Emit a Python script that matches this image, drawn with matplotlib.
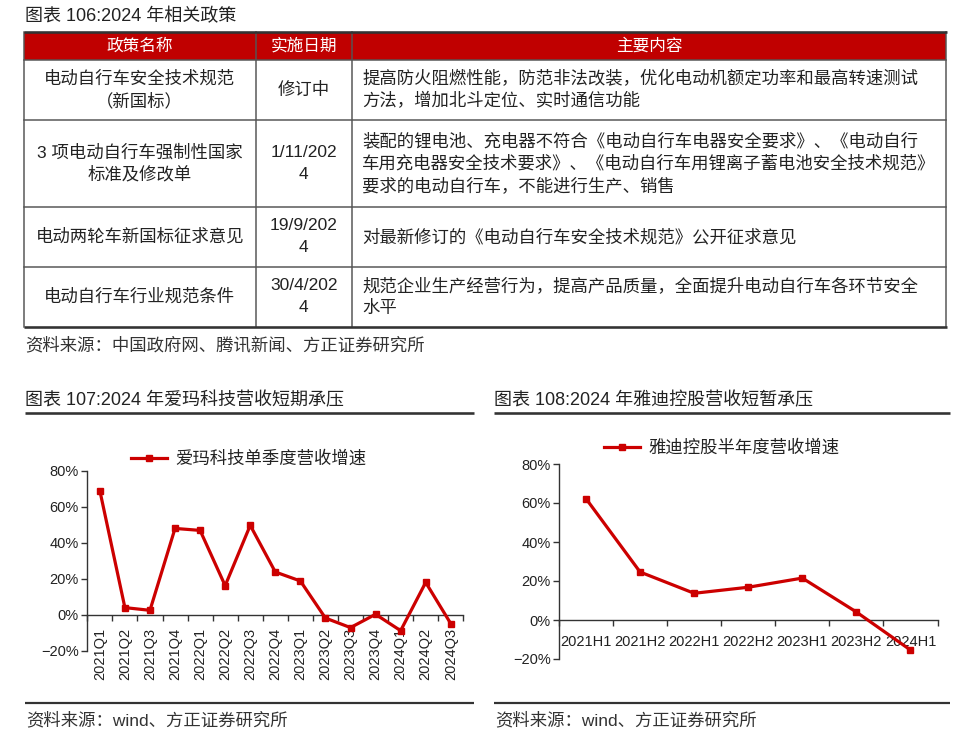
import matplotlib
matplotlib.use('Agg')
import matplotlib.pyplot as plt
from matplotlib.patches import Rectangle
import numpy as np

plt.rcParams['font.family'] = ['Liberation Sans', 'Noto Sans CJK SC', 'DejaVu Sans']
CJK = ['Noto Sans CJK SC', 'Liberation Sans', 'DejaVu Sans']

# ---------------- data ----------------
table_title = "图表 106:2024 年相关政策"
table_headers = ["政策名称", "实施日期", "主要内容"]
policy_names = [["电动自行车安全技术规范", "（新国标）"],
                ["3 项电动自行车强制性国家", "标准及修改单"],
                ["电动两轮车新国标征求意见"],
                ["电动自行车行业规范条件"]]
policy_dates = [["修订中"], ["1/11/202", "4"], ["19/9/202", "4"], ["30/4/202", "4"]]
policy_contents = [
    ["提高防火阻燃性能，防范非法改装，优化电动机额定功率和最高转速测试",
     "方法，增加北斗定位、实时通信功能"],
    ["装配的锂电池、充电器不符合《电动自行车电器安全要求》、《电动自行",
     "车用充电器安全技术要求》、《电动自行车用锂离子蓄电池安全技术规范》",
     "要求的电动自行车，不能进行生产、销售"],
    ["对最新修订的《电动自行车安全技术规范》公开征求意见"],
    ["规范企业生产经营行为，提高产品质量，全面提升电动自行车各环节安全",
     "水平"],
]
table_source = "资料来源：中国政府网、腾讯新闻、方正证券研究所"

aima_title = "图表 107:2024 年爱玛科技营收短期承压"
aima_legend = "爱玛科技单季度营收增速"
aima_quarters = ["2021Q1", "2021Q2", "2021Q3", "2021Q4", "2022Q1", "2022Q2", "2022Q3",
                 "2022Q4", "2023Q1", "2023Q2", "2023Q3", "2023Q4", "2024Q1", "2024Q2", "2024Q3"]
aima_growth = [69.1, 4.1, 2.6, 48.1, 47.0, 16.3, 49.8, 23.9, 18.9, -1.7, -7.0, 0.4, -8.7, 18.1, -4.8]

yadea_title = "图表 108:2024 年雅迪控股营收短暂承压"
yadea_legend = "雅迪控股半年度营收增速"
yadea_halves = ["2021H1", "2021H2", "2022H1", "2022H2", "2023H1", "2023H2", "2024H1"]
yadea_growth = [62.2, 24.6, 13.7, 16.8, 21.5, 4.1, -15.4]

chart_source = "资料来源：wind、方正证券研究所"
y_ticks = [-20, 0, 20, 40, 60, 80]
y_tick_labels = ["−20%", "0%", "20%", "40%", "60%", "80%"]

# ---------------- figure ----------------
W, H = 960, 742
fig = plt.figure(figsize=(W / 100, H / 100), dpi=100)
bg = fig.add_axes([0, 0, 1, 1], zorder=0)
bg.set_xlim(0, W)
bg.set_ylim(H, 0)
bg.axis('off')

PX = 0.72  # points per pixel
TXT = '#222222'
RED = '#CC0000'

# ---- table ----
bg.text(25, 17, table_title, fontsize=13, color=TXT, va='center', ha='left')
col_x = [24, 255.5, 352, 946]
row_y = [32, 59.5, 120, 206.5, 266.7, 327]
bg.add_patch(Rectangle((col_x[0], row_y[0]), col_x[-1] - col_x[0], row_y[1] - row_y[0],
                       facecolor='#C00000', edgecolor='none'))
for y in row_y[1:-1]:
    bg.plot([col_x[0], col_x[-1]], [y, y], color='#555555', lw=1.5 * PX)
for x in col_x:
    bg.plot([x, x], [row_y[0], row_y[-1]], color='#555555', lw=1.5 * PX)
for y in (row_y[0], row_y[-1]):
    bg.plot([col_x[0] - 0.5, col_x[-1] + 0.5], [y, y], color='#333333', lw=2.6 * PX,
            solid_capstyle='butt')

hc = (row_y[0] + row_y[1]) / 2
bg.text((col_x[0] + col_x[1]) / 2, hc, table_headers[0], color='white', fontsize=12,
        ha='center', va='center', family=CJK)
bg.text((col_x[1] + col_x[2]) / 2, hc, table_headers[1], color='white', fontsize=12,
        ha='center', va='center', family=CJK)
bg.text((col_x[2] + col_x[3]) / 2, hc, table_headers[2], color='white', fontsize=12,
        ha='center', va='center', family=CJK)

LS = 22
for r in range(4):
    yc = (row_y[r + 1] + row_y[r + 2]) / 2
    for lines, x, ha in ((policy_names[r], (col_x[0] + col_x[1]) / 2, 'center'),
                         (policy_dates[r], (col_x[1] + col_x[2]) / 2, 'center'),
                         (policy_contents[r], col_x[2] + 10, 'left')):
        n = len(lines)
        for i, s in enumerate(lines):
            bg.text(x, yc + (i - (n - 1) / 2) * LS, s, fontsize=12.5, color=TXT,
                    ha=ha, va='center')

bg.text(25, 345, table_source, fontsize=12.5, color='#333333', ha='left', va='center', family=CJK)

# ---- chart headings / separators ----
for x0, x1, title in ((25, 474, aima_title), (494, 950, yadea_title)):
    bg.text(x0, 400.5, title, fontsize=13, color=TXT, ha='left', va='center')
    bg.plot([x0, x1], [413.3, 413.3], color='#333333', lw=2.6 * PX, solid_capstyle='butt')
    bg.plot([x0, x1], [703, 703], color='#333333', lw=2.2 * PX, solid_capstyle='butt')
    bg.text(x0 + 1, 720, chart_source, fontsize=12.5, color='#333333', ha='left', va='center')


def style_axis(ax, cats, vals, legend_label, leg_xy, rot, pad):
    n = len(cats)
    x = np.arange(n)
    ax.plot(x, vals, color=RED, lw=2.3, marker='s', ms=5, label=legend_label, zorder=3,
            clip_on=False)
    ax.set_xlim(-0.5, n - 0.5)
    ax.set_ylim(-20, 80)
    for s in ('top', 'right'):
        ax.spines[s].set_visible(False)
    ax.spines['bottom'].set_position(('data', 0))
    for s in ('bottom', 'left'):
        ax.spines[s].set_color('#333333')
        ax.spines[s].set_linewidth(1.0)
    ax.set_yticks(y_ticks)
    ax.set_yticklabels(y_tick_labels)
    ax.tick_params(axis='y', direction='out', length=4, width=1, color='#333333',
                   labelsize=10.5, labelcolor=TXT, pad=2)
    ax.set_xticks(x)
    ax.set_xticklabels(cats, rotation=rot)
    ax.set_xticks(np.arange(n + 1) - 0.5, minor=True)
    ax.tick_params(axis='x', which='major', length=0, labelsize=10.5, labelcolor=TXT, pad=pad)
    ax.tick_params(axis='x', which='minor', direction='out', length=4.5, width=1,
                   color='#333333')
    leg = ax.legend(loc='center', bbox_to_anchor=(leg_xy[0] / W, 1 - leg_xy[1] / H),
                    bbox_transform=fig.transFigure, frameon=False, fontsize=12.5,
                    handlelength=2.1, handletextpad=0.45, borderpad=0,
                    prop={'family': CJK, 'size': 12.5})
    for t in leg.get_texts():
        t.set_color(TXT)


ax1 = fig.add_axes([87.3 / W, 1 - 651 / H, 376 / W, 180 / H])
style_axis(ax1, aima_quarters, aima_growth, aima_legend, (248.5, 459), 90, 9)

ax2 = fig.add_axes([559 / W, 1 - 659 / H, 378.5 / W, 195 / H])
style_axis(ax2, yadea_halves, yadea_growth, yadea_legend, (721.5, 448), 0, 11)

fig.savefig('out.png', dpi=100, facecolor='white')
